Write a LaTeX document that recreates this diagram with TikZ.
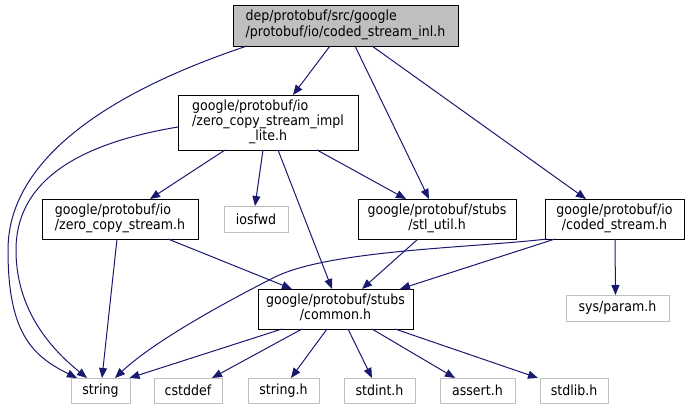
\documentclass[tikz,border=0pt]{standalone}
\usepackage{fontspec}
\setmainfont{DejaVu Sans}[FakeStretch=0.9]
\usetikzlibrary{arrows.meta}
\definecolor{edgeblue}{HTML}{191970}
\definecolor{boxgray}{HTML}{BFBFBF}
\tikzset{
  file/.style={draw=black, line width=0.9pt, fill=white, inner sep=0pt, outer sep=0pt,
    font=\fontsize{14}{15}\selectfont, text=black},
  sysfile/.style={file, draw=boxgray, minimum height=25pt},
  dep/.style={draw=edgeblue, line width=1pt, -{Triangle[length=10pt,width=8pt]}},
}
\begin{document}
\begin{tikzpicture}[x=1pt,y=-1pt]
\useasboundingbox (0,0) rectangle (689,409);
% nodes
\node[file, fill=boxgray, minimum width=225pt, minimum height=41pt] (top) at (345.5,25.5)
  {\begin{tabular}{@{}l@{}}dep/protobuf/src/google\\/protobuf/io/coded\_stream\_inl.h\end{tabular}};
\node[file, minimum width=180pt, minimum height=55pt] (zcsil) at (268,122.5)
  {\begin{tabular}{@{}l@{}}google/protobuf/io\\/zero\_copy\_stream\_impl\\\multicolumn{1}{@{}c@{}}{\_lite.h}\end{tabular}};
\node[file, minimum width=156pt, minimum height=40pt] (zcs) at (120,219)
  {\begin{tabular}{@{}l@{}}google/protobuf/io\\/zero\_copy\_stream.h\end{tabular}};
\node[sysfile, minimum width=64pt, minimum height=26pt] (iosfwd) at (256,219) {iosfwd};
\node[file, minimum width=158pt, minimum height=40pt] (stl) at (437,219)
  {\begin{tabular}{@{}c@{}}google/protobuf/stubs\\/stl\_util.h\end{tabular}};
\node[file, minimum width=139pt, minimum height=40pt] (coded) at (614.5,219)
  {\begin{tabular}{@{}c@{}}google/protobuf/io\\/coded\_stream.h\end{tabular}};
\node[file, minimum width=155pt, minimum height=40pt] (common) at (335.5,309)
  {\begin{tabular}{@{}c@{}}google/protobuf/stubs\\/common.h\end{tabular}};
\node[sysfile, minimum width=103pt, minimum height=26pt] (sysparam) at (617.5,308) {sys/param.h};
\node[sysfile, minimum width=59pt] (string) at (100.5,390.5) {string};
\node[sysfile, minimum width=68pt] (cstddef) at (188,390.5) {cstddef};
\node[sysfile, minimum width=71pt] (stringh) at (283.5,390.5) {string.h};
\node[sysfile, minimum width=71pt] (stdint) at (379.5,390.5) {stdint.h};
\node[sysfile, minimum width=75pt] (assert) at (477.5,390.5) {assert.h};
\node[sysfile, minimum width=68pt] (stdlib) at (574,390.5) {stdlib.h};
% curve waypoints
\coordinate (c1) at (8,250);
\coordinate (c2) at (16,250);
\coordinate (c3) at (275,277);
% edges from top
\draw[dep] ([xshift=-98.5pt]top.south) .. controls (130,85) and (8,150) .. (c1)
  .. controls (8,330) and (30,355) .. ([xshift=-23.5pt]string.north);
\draw[dep] ([xshift=-15.5pt]top.south) -- ([xshift=25pt]zcsil.north);
\draw[dep] ([xshift=9.5pt]top.south) -- ([xshift=-8pt]stl.north);
\draw[dep] ([xshift=26.5pt]top.south) -- ([xshift=-28.5pt]coded.north);
% edges from zcsil
\draw[dep] ([yshift=-4.5pt]zcsil.west) .. controls (100,140) and (16,170) .. (c2)
  .. controls (16,300) and (40,340) .. ([xshift=-13.5pt]string.north);
\draw[dep] ([xshift=-43pt]zcsil.south) -- ([xshift=30pt]zcs.north);
\draw[dep] ([xshift=-5pt]zcsil.south) -- ([xshift=-1pt]iosfwd.north);
\draw[dep] ([xshift=10pt]zcsil.south) -- ([xshift=-3.5pt]common.north);
\draw[dep] ([xshift=49pt]zcsil.south) -- ([xshift=-31pt]stl.north);
% edges from zcs
\draw[dep] ([xshift=-3pt]zcs.south) -- ([xshift=1.5pt]string.north);
\draw[dep] ([xshift=48pt]zcs.south) -- ([xshift=-43.5pt]common.north);
% stl
\draw[dep] ([xshift=-19pt]stl.south) -- ([xshift=26.5pt]common.north);
% coded
\draw[dep] ([xshift=-67.5pt]coded.south) .. controls (470,248) and (330,250) .. (c3)
  .. controls (210,310) and (150,345) .. ([xshift=14.5pt]string.north);
\draw[dep] ([xshift=-59.5pt]coded.south) -- ([xshift=64.5pt]common.north);
\draw[dep] ([xshift=0.5pt]coded.south) -- ([xshift=-2pt]sysparam.north);
% common
\draw[dep] ([xshift=-53.5pt]common.south) -- ([xshift=29pt]string.north);
\draw[dep] ([xshift=-33.5pt]common.south) -- ([xshift=24pt]cstddef.north);
\draw[dep] ([xshift=-8.5pt]common.south) -- ([xshift=7.5pt]stringh.north);
\draw[dep] ([xshift=12.5pt]common.south) -- ([xshift=-7.5pt]stdint.north);
\draw[dep] ([xshift=36.5pt]common.south) -- ([xshift=-22.5pt]assert.north);
\draw[dep] ([xshift=59.5pt]common.south) -- ([xshift=-36pt]stdlib.north);
\end{tikzpicture}
\end{document}
